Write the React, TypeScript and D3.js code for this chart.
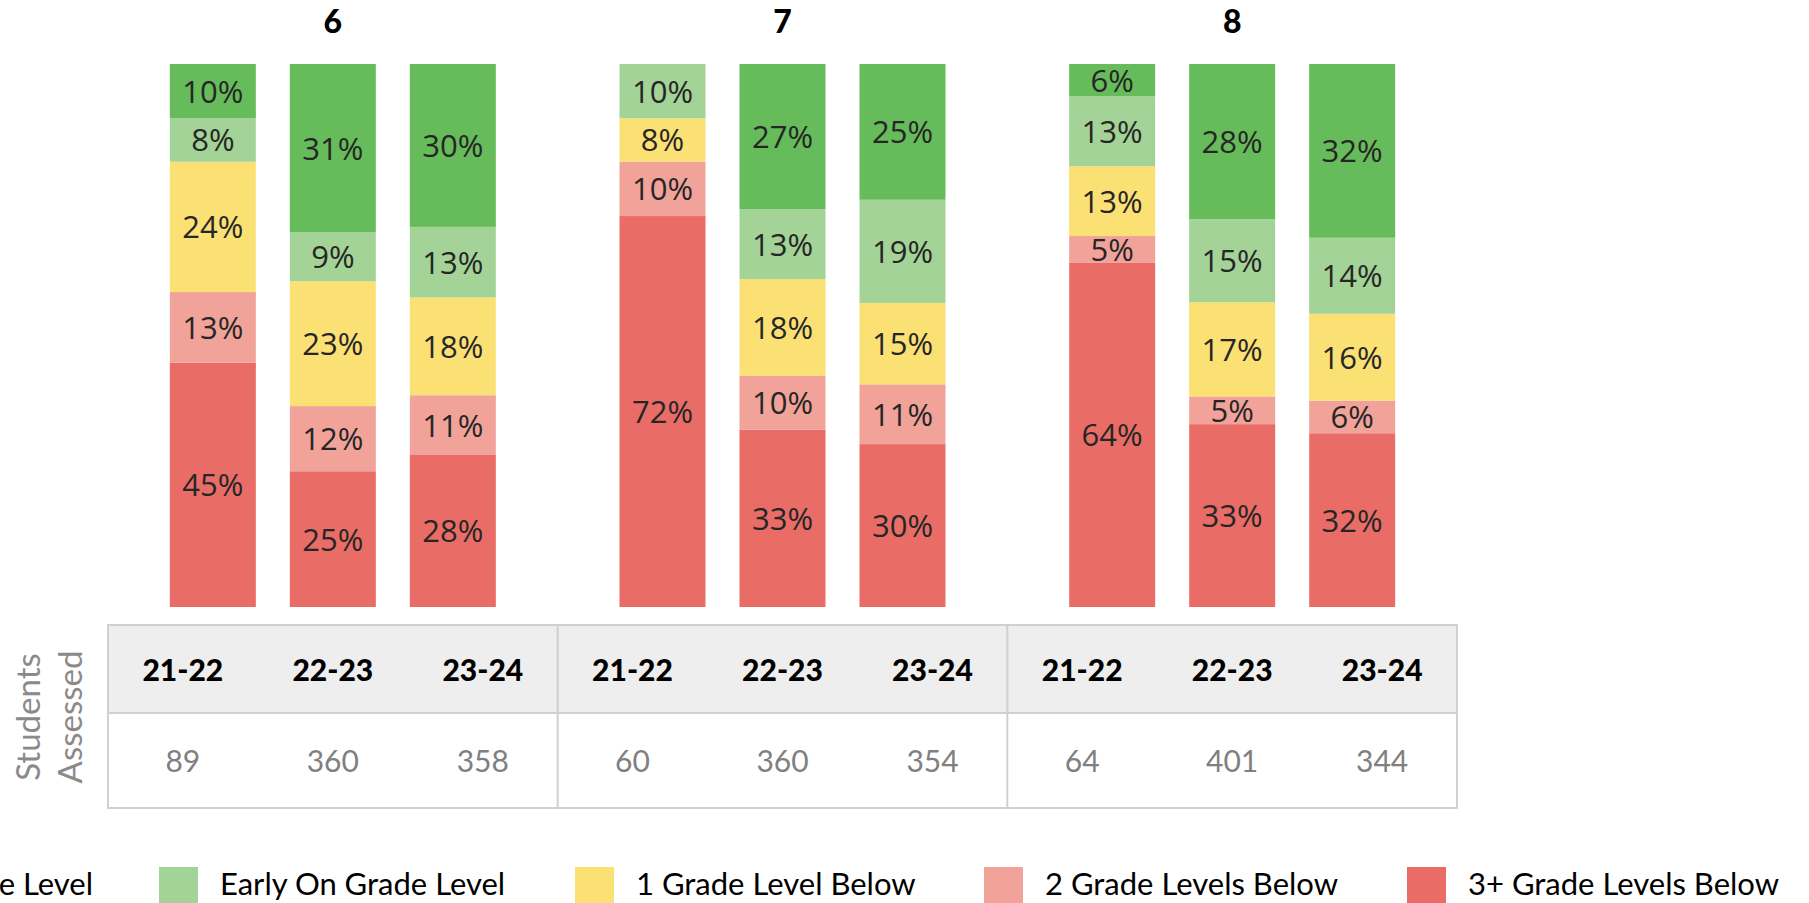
import React from "react";
import * as d3 from "d3";

const grades = ["6", "7", "8"];
const years = ["21-22", "22-23", "23-24"];
const categories = [
  "On Grade Level",
  "Early On Grade Level",
  "1 Grade Level Below",
  "2 Grade Levels Below",
  "3+ Grade Levels Below",
];
const colors = ["#66BC5A", "#A3D397", "#FBE074", "#F1A39A", "#E96D66"];

// values per bar, grade-major order (6: 21-22, 22-23, 23-24, 7: ..., 8: ...)
const onGrade = [10, 31, 30, 0, 27, 25, 6, 28, 32];
const earlyOn = [8, 9, 13, 10, 13, 19, 13, 15, 14];
const oneBelow = [24, 23, 18, 8, 18, 15, 13, 17, 16];
const twoBelow = [13, 12, 11, 10, 10, 11, 5, 5, 6];
const threeBelow = [45, 25, 28, 72, 33, 30, 64, 33, 32];
const studentsAssessed = [89, 360, 358, 60, 360, 354, 64, 401, 344];

const W = 1809;
const H = 903;

export default function App() {
  const seriesArrays = [onGrade, earlyOn, oneBelow, twoBelow, threeBelow];
  const rows = grades.flatMap((g, gi) =>
    years.map((y, yi) => {
      const idx = gi * 3 + yi;
      const r: any = { grade: g, year: y, idx };
      categories.forEach((c, ci) => (r[c] = seriesArrays[ci][idx]));
      return r;
    })
  );

  const stackKeys = [...categories].reverse();
  const stacked = d3.stack<any>().keys(stackKeys).offset(d3.stackOffsetExpand)(rows);

  const tableLeft = 108;
  const tableRight = 1457;
  const tableTop = 625;
  const headerBottom = 713;
  const tableBottom = 808;

  const xGroup = d3.scaleBand<string>().domain(grades).range([tableLeft, tableRight]).padding(0);
  const gc = (g: string) => (xGroup(g) as number) + xGroup.bandwidth() / 2;
  const xBar = d3.scalePoint<string>().domain(years).range([-120, 120]);
  const xCol = d3.scalePoint<string>().domain(years).range([-150, 150]);
  const barW = 86;
  const y = d3.scaleLinear().domain([0, 1]).range([607, 64]);

  const border = "#D0D0D0";
  const legendSquareX = [null, 159, 575, 984, 1407];

  return (
    <svg width={W} height={H} style={{ position: "absolute", left: 0, top: 0, background: "#fff" }}>
      {/* grade titles */}
      {grades.map((g) => (
        <text key={g} x={gc(g)} y={33} textAnchor="middle" fontFamily="Lato" fontWeight="900" fontSize={32} fill="#000">
          {g}
        </text>
      ))}

      {/* stacked bars */}
      {stacked.map((layer) => {
        const ci = categories.indexOf(layer.key);
        return (
          <g key={layer.key}>
            {layer.map((d, i) => {
              const r = rows[i];
              const v = r[layer.key];
              if (!v) return null;
              const x = gc(r.grade) + (xBar(r.year) as number) - barW / 2;
              const y0 = y(d[1]);
              const y1 = y(d[0]);
              return (
                <g key={i}>
                  <rect x={x} y={y0} width={barW} height={y1 - y0} fill={colors[ci]} />
                  <text
                    x={x + barW / 2}
                    y={(y0 + y1) / 2}
                    dy="0.37em"
                    textAnchor="middle"
                    fontFamily="'Open Sans', sans-serif"
                    fontSize={31}
                    fill="#262626"
                  >
                    {v}%
                  </text>
                </g>
              );
            })}
          </g>
        );
      })}

      {/* table */}
      <rect x={tableLeft} y={tableTop} width={tableRight - tableLeft} height={headerBottom - tableTop} fill="#EEEEEE" />
      <rect
        x={tableLeft}
        y={tableTop}
        width={tableRight - tableLeft}
        height={tableBottom - tableTop}
        fill="none"
        stroke={border}
        strokeWidth={2}
      />
      <line x1={tableLeft} x2={tableRight} y1={headerBottom} y2={headerBottom} stroke={border} strokeWidth={2} />
      {grades.slice(1).map((g) => (
        <line key={g} x1={xGroup(g)} x2={xGroup(g)} y1={tableTop} y2={tableBottom} stroke={border} strokeWidth={2} />
      ))}
      {rows.map((r, i) => (
        <g key={i}>
          <text
            x={gc(r.grade) + (xCol(r.year) as number)}
            y={681}
            textAnchor="middle"
            fontFamily="Lato"
            fontWeight="900"
            fontSize={30}
            fill="#000"
          >
            {r.year}
          </text>
          <text
            x={gc(r.grade) + (xCol(r.year) as number)}
            y={772}
            textAnchor="middle"
            fontFamily="Lato"
            fontSize={30}
            fill="#808080"
          >
            {studentsAssessed[i]}
          </text>
        </g>
      ))}
      <g fontFamily="Lato" fontSize={33} fill="#8A8A8A" textAnchor="middle">
        <text transform="translate(40,717) rotate(-90)">Students</text>
        <text transform="translate(82,717) rotate(-90)">Assessed</text>
      </g>

      {/* legend */}
      {categories.map((c, i) => {
        const sx = legendSquareX[i];
        if (sx === null) {
          return (
            <text key={c} x={93} y={895} textAnchor="end" fontFamily="Lato" fontSize={31} fill="#000">
              {c}
            </text>
          );
        }
        return (
          <g key={c}>
            <rect x={sx} y={867} width={39} height={39} fill={colors[i]} />
            <text x={sx + 61} y={895} fontFamily="Lato" fontSize={31} fill="#000">
              {c}
            </text>
          </g>
        );
      })}
    </svg>
  );
}
